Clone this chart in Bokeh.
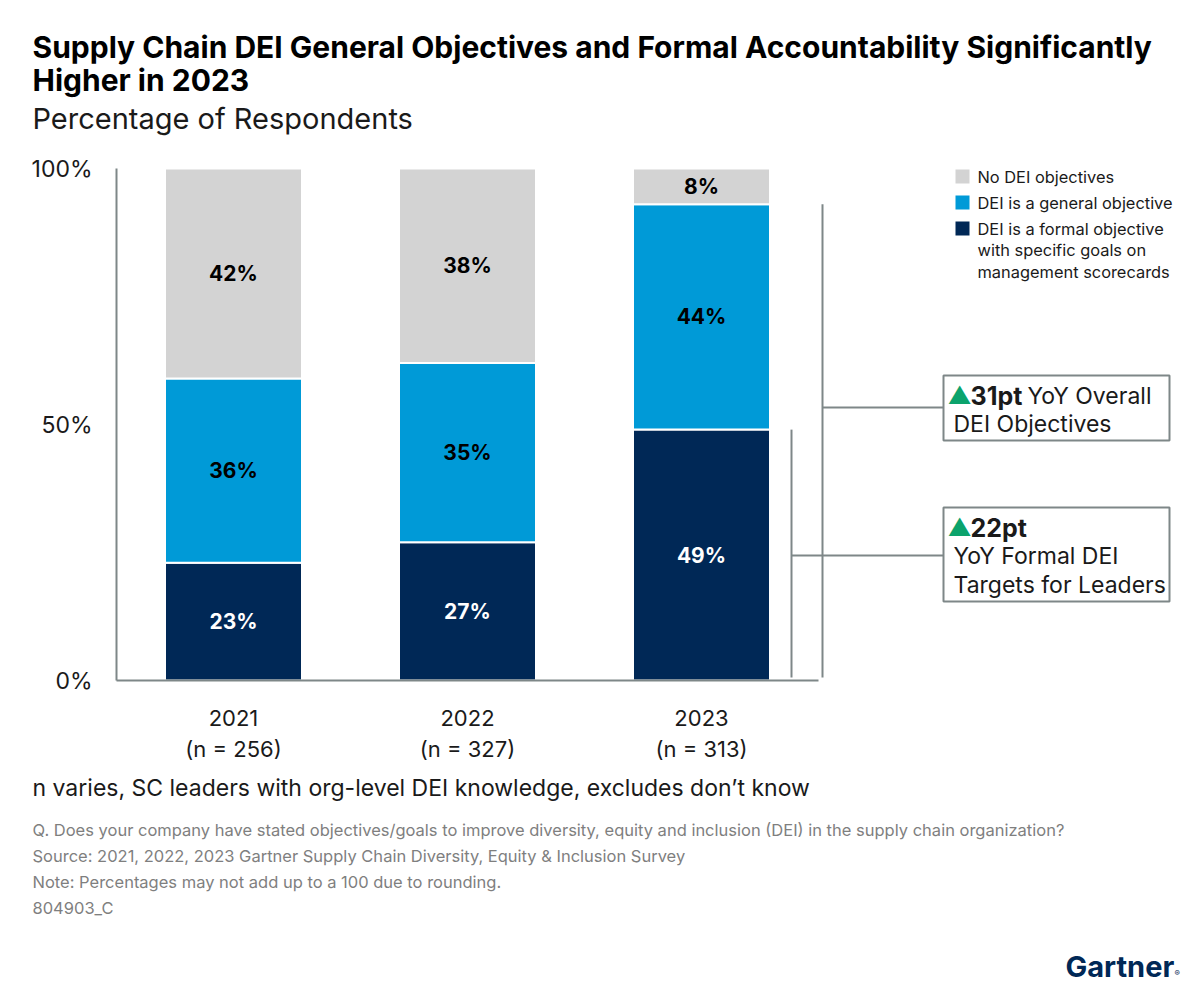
from bokeh.plotting import figure
from bokeh.models import Range1d, FixedTicker, ColumnDataSource
from bokeh.embed import file_html
from bokeh.resources import INLINE
from bokeh.core.properties import value

# ---------------- data ----------------
years = ["2021", "2022", "2023"]
n_sizes = [256, 327, 313]
formal = [23, 27, 49]
general = [36, 35, 44]
no_obj = [42, 38, 8]
series = [formal, general, no_obj]
legend_names = ["No DEI objectives",
                "DEI is a general objective",
                "DEI is a formal objective\nwith specific goals on\nmanagement scorecards"]
colors = ["#002856", "#009AD7", "#D3D3D3"]
label_colors = ["white", "black", "black"]
yticks = [0, 50, 100]
ytick_labels = ["0%", "50%", "100%"]

title_lines = ["Supply Chain DEI General Objectives and Formal Accountability Significantly",
               "Higher in 2023"]
subtitle = "Percentage of Respondents"
base_note = "n varies, SC leaders with org-level DEI knowledge, excludes don\u2019t know"
notes = ["Q. Does your company have stated objectives/goals to improve diversity, equity and inclusion (DEI) in the supply chain organization?",
         "Source: 2021, 2022, 2023 Gartner Supply Chain Diversity, Equity & Inclusion Survey",
         "Note: Percentages may not add up to a 100 due to rounding.",
         "804903_C"]
overall_delta = 31
formal_delta = 22

# ---------------- geometry (page pixels) ----------------
W, H = 1200, 990
X0, Y0, Y100 = 116, 680, 168        # axis origin and 100% line
UNIT = 234                           # px per category slot
PXY = (Y0 - Y100) / 100.0            # px per percent

FONT = "Inter"
GREY = "#7E8788"
GREEN = "#0BA36C"
TXT = "#1A1A1A"
NAVY = "#002856"


def px2x(X):
    return (X - X0) / UNIT


def px2y(Y):
    return (Y0 - Y) / PXY


p = figure(width=W, height=H, output_backend="svg", toolbar_location=None, title=None,
           x_range=Range1d(px2x(0), px2x(W)), y_range=Range1d(px2y(H), px2y(0)),
           min_border=0)
p.outline_line_color = None
p.grid.visible = False

# ---------------- bars ----------------
xs = [i + 0.5 for i in range(len(years))]
lx, ly, lt, lc = [], [], [], []
for k, (vals, col) in enumerate(zip(series, colors)):
    bottoms, tops = [], []
    for i in range(len(years)):
        b = sum(s[i] for s in series[:k])
        t = min(b + vals[i], 100)        # rounding can push the stack past 100
        bottoms.append(b)
        tops.append(t)
        lx.append(xs[i])
        ly.append((b + t) / 2)
        lt.append(f"{vals[i]}%")
        lc.append(label_colors[k])
    p.vbar(x=xs, bottom=bottoms, top=tops, width=137 / UNIT, fill_color=col,
           line_color="white", line_width=2)

p.text(x="x", y="y", text="t", text_color="c",
       source=ColumnDataSource(dict(x=lx, y=ly, t=lt, c=lc)),
       text_font=value(FONT), text_font_style="bold", text_font_size="21px",
       text_align="center", text_baseline="middle")

# ---------------- axes ----------------
p.xaxis.ticker = FixedTicker(ticks=xs)
p.xaxis.major_label_overrides = {x: f"{y}\n(n = {n})" for x, y, n in zip(xs, years, n_sizes)}
p.xaxis.bounds = (0, 3)
p.xaxis.fixed_location = 0
p.yaxis.ticker = FixedTicker(ticks=yticks)
p.yaxis.major_label_overrides = {t: l for t, l in zip(yticks, ytick_labels)}
p.yaxis.bounds = (0, 100)
p.yaxis.fixed_location = 0
for ax in (p.xaxis, p.yaxis):
    ax.axis_line_color = GREY
    ax.axis_line_width = 2
    ax.major_tick_line_color = None
    ax.minor_tick_line_color = None
    ax.major_tick_out = 0
    ax.major_tick_in = 0
    ax.minor_tick_out = 0
    ax.major_label_text_font = FONT
    ax.major_label_text_font_size = "22px"
    ax.major_label_text_color = TXT
    ax.major_label_standoff = 24
p.yaxis.major_label_text_font_size = "23px"

# ---------------- legend ----------------
leg_y = [176, 202, 228]
leg_colors = [colors[2], colors[1], colors[0]]
p.scatter(x=[px2x(962)] * 3, y=[px2y(v) for v in leg_y], marker="square", size=14,
          fill_color=leg_colors, line_color=None)
leg_lines, leg_ly = [], []
for name, yy in zip(legend_names, leg_y):
    for k, line in enumerate(name.split("\n")):
        leg_lines.append(line)
        leg_ly.append(px2y(yy + 21.5 * k))
p.text(x=[px2x(977)] * len(leg_lines), y=leg_ly, text=leg_lines,
       text_font=value(FONT), text_font_size="16.4px", text_color=TXT,
       text_align="left", text_baseline="middle")

# ---------------- bracket annotations ----------------
tot23 = formal[2] + general[2]
p.segment(x0=[px2x(822), px2x(822), px2x(791), px2x(791)],
          y0=[px2y(677), px2y(407), px2y(677), px2y(555)],
          x1=[px2x(822), px2x(943), px2x(791), px2x(943)],
          y1=[tot23, px2y(407), formal[2], px2y(555)],
          line_color=GREY, line_width=2)
p.quad(left=[px2x(943), px2x(943)], right=[px2x(1169), px2x(1169)],
       top=[px2y(375), px2y(507)], bottom=[px2y(440), px2y(601)],
       fill_color="white", line_color=GREY, line_width=2)


def put(text, X, Y, size, color=TXT, style="normal", align="left"):
    p.text(x=[px2x(X)], y=[px2y(Y)], text=[text], text_font=value(FONT),
           text_font_size=size, text_color=color, text_font_style=style,
           text_align=align, text_baseline="middle")


put("\u25B2", 947, 395, "24px", color=GREEN)
put(f"{overall_delta}pt", 970, 395, "25px", style="bold")
put("YoY Overall", 1027, 395, "23px")
put("DEI Objectives", 953, 423, "23px")
put("\u25B2", 947, 527, "24px", color=GREEN)
put(f"{formal_delta}pt", 970, 527, "25px", style="bold")
put("YoY Formal DEI", 953, 555, "23px")
put("Targets for Leaders", 953, 584, "23px")

# ---------------- titles & footer ----------------
put(title_lines[0], 32, 46, "30px", color="black", style="bold")
put(title_lines[1], 32, 79, "30px", color="black", style="bold")
put(subtitle, 32, 118, "29px")
put(base_note, 32, 787, "23px")
for k, t in enumerate(notes):
    put(t, 32, 829 + 26 * k, "16.5px", color="#7F7F7F")
put("Gartner", 1065, 966, "29px", color=NAVY, style="bold")
put("\u00AE", 1174, 972, "8px", color=NAVY)

open("out.html", "w").write(file_html(p, INLINE))
